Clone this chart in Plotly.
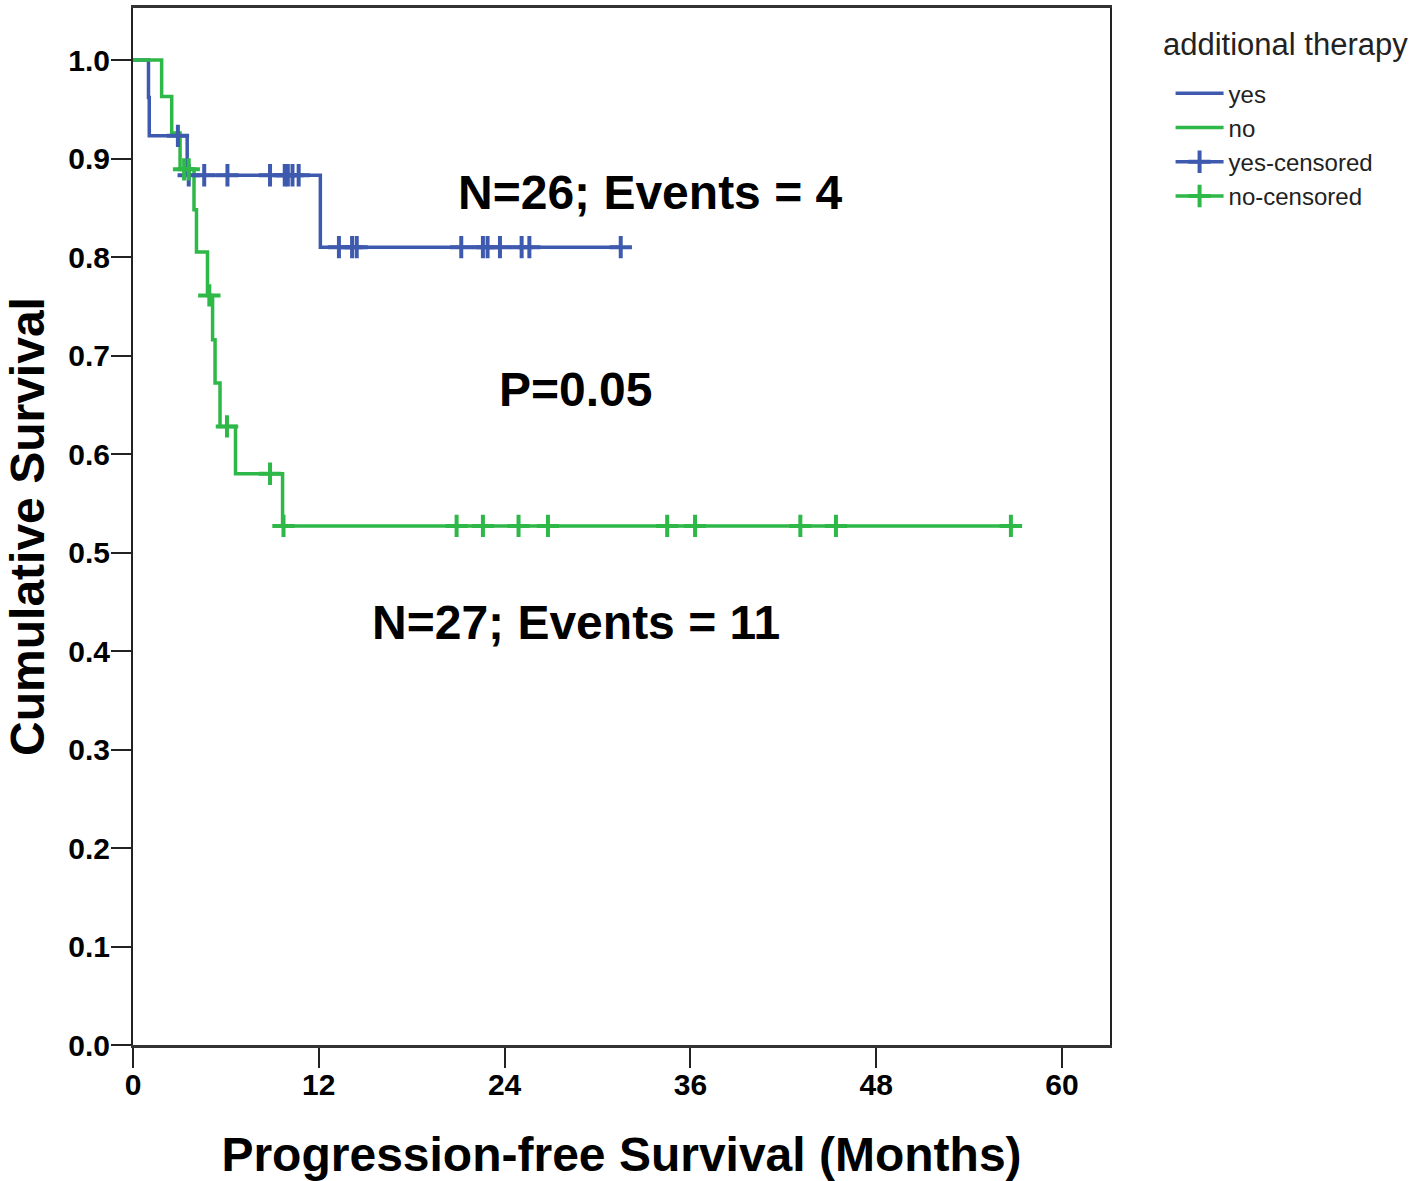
import plotly.graph_objects as go

# Kaplan-Meier step curves: event times (months) and survival after each step
yes_time = [0, 1.0, 1.05, 3.5, 12.1, 31.5]
yes_surv = [1.0, 0.962, 0.923, 0.883, 0.810, 0.810]

no_time = [0, 1.85, 2.5, 3.04, 3.94, 4.1, 4.81, 5.14, 5.30, 5.62, 6.62, 9.66, 56.7]
no_surv = [1.0, 0.963, 0.926, 0.889, 0.848, 0.805, 0.761, 0.716, 0.672, 0.628, 0.580, 0.527, 0.527]

# Censored observations
yes_cens_time = [2.9, 3.6, 4.6, 6.1, 8.85, 9.8, 10.0, 10.3, 10.7,
                 13.3, 14.15, 14.45, 21.2, 22.6, 22.9, 23.7, 25.1, 25.6, 31.5]
yes_cens_surv = [0.923] + [0.883] * 8 + [0.810] * 10

no_cens_time = [3.3, 3.6, 4.93, 6.07, 8.85, 9.72,
                20.9, 22.6, 24.9, 26.8, 34.5, 36.3, 43.1, 45.4, 56.7]
no_cens_surv = [0.889, 0.889, 0.761, 0.628, 0.580] + [0.527] * 10

x_ticks = [0, 12, 24, 36, 48, 60]
y_ticks = [0.0, 0.1, 0.2, 0.3, 0.4, 0.5, 0.6, 0.7, 0.8, 0.9, 1.0]

BLUE = "#3E5AAF"
GREEN = "#2EB848"
FONT = "Liberation Sans, Arial, sans-serif"
LW = 3.5


def gapped(vals):
    # separate points with None so the legend shows a line through the cross
    out = []
    for v in vals:
        out += [v, None]
    return out[:-1]


fig = go.Figure()
fig.add_trace(go.Scatter(x=yes_time, y=yes_surv, mode="lines", name="yes",
                         line=dict(color=BLUE, width=LW, shape="hv")))
fig.add_trace(go.Scatter(x=no_time, y=no_surv, mode="lines", name="no",
                         line=dict(color=GREEN, width=LW, shape="hv")))
fig.add_trace(go.Scatter(x=gapped(yes_cens_time), y=gapped(yes_cens_surv),
                         mode="lines+markers", name="yes-censored",
                         line=dict(color=BLUE, width=LW), connectgaps=False,
                         marker=dict(symbol="cross-thin", size=16,
                                     line=dict(color=BLUE, width=4))))
fig.add_trace(go.Scatter(x=gapped(no_cens_time), y=gapped(no_cens_surv),
                         mode="lines+markers", name="no-censored",
                         line=dict(color=GREEN, width=LW), connectgaps=False,
                         marker=dict(symbol="cross-thin", size=16,
                                     line=dict(color=GREEN, width=4))))

ann_font = dict(family=FONT, size=48, color="black")
fig.add_annotation(x=33.4, y=0.865, text="<b>N=26; Events = 4</b>",
                   showarrow=False, font=ann_font)
fig.add_annotation(x=28.6, y=0.665, text="<b>P=0.05</b>",
                   showarrow=False, font=ann_font)
fig.add_annotation(x=28.6, y=0.429, text="<b>N=27; Events = 11</b>",
                   showarrow=False, font=ann_font)

# legend heading
fig.add_annotation(xref="paper", yref="paper", x=1.0527, y=0.984,
                   xanchor="left", yanchor="top", showarrow=False,
                   text="additional therapy",
                   font=dict(family=FONT, size=31, color="#222"))

fig.update_layout(
    width=1422, height=1181,
    margin=dict(l=133, r=312, t=8, b=136),
    paper_bgcolor="white", plot_bgcolor="white",
    font=dict(family=FONT, color="black"),
    legend=dict(
        font=dict(size=24, color="#222"),
        x=1.062, xanchor="left", y=0.939, yanchor="top",
        tracegroupgap=0, itemwidth=48, bgcolor="rgba(0,0,0,0)",
    ),
    xaxis=dict(
        range=[0, 63.1], tickvals=x_ticks, ticktext=[f"<b>{t}</b>" for t in x_ticks],
        ticks="outside", ticklen=20, tickwidth=2, tickcolor="#222",
        ticklabelstandoff=-9, automargin=False,
        showline=True, linecolor="#333", linewidth=3, mirror=True,
        showgrid=False, zeroline=False,
        tickfont=dict(size=30, color="black"),
        title=dict(text="<b>Progression-free Survival (Months)</b>",
                   font=dict(size=48, color="black"), standoff=40),
    ),
    yaxis=dict(
        range=[0, 1.0528], tickvals=y_ticks, ticktext=[f"<b>{t:.1f}</b>" for t in y_ticks],
        ticks="outside", ticklen=20, tickwidth=2, tickcolor="#222",
        ticklabelstandoff=-5, automargin=False,
        showline=True, linecolor="#222", linewidth=2, mirror=True,
        showgrid=False, zeroline=False,
        tickfont=dict(size=30, color="black"),
        title=dict(text="<b>Cumulative Survival</b>",
                   font=dict(size=48, color="black"), standoff=8),
    ),
)

fig.write_html("out.html")
